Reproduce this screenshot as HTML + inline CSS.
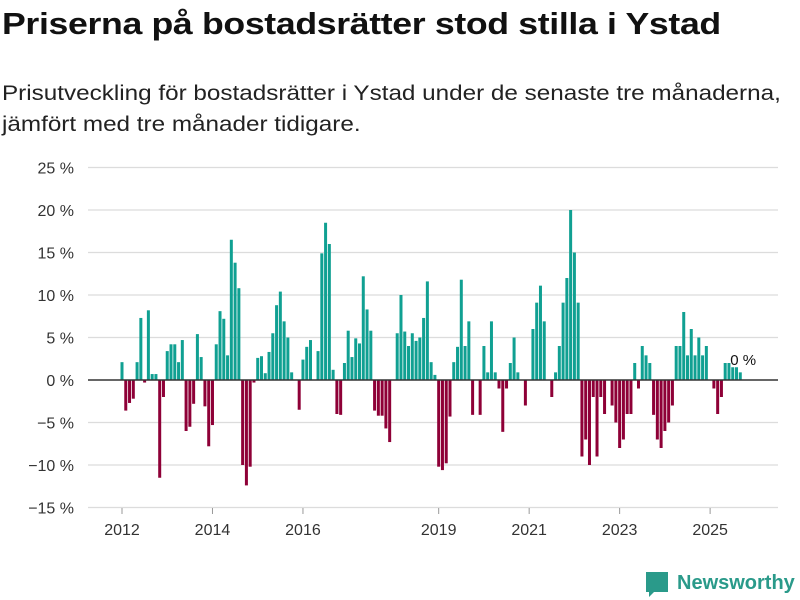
<!DOCTYPE html>
<html><head><meta charset="utf-8"><style>
body{margin:0;background:#fff;font-family:"Liberation Sans",sans-serif;}
#wrap{position:relative;width:800px;height:600px;overflow:hidden;}
h1{position:absolute;left:2px;top:6px;margin:0;font-size:31px;font-weight:bold;color:#111;letter-spacing:-0.3px;transform:scaleX(1.15);transform-origin:left top;white-space:nowrap;}
.sub{position:absolute;left:2px;top:78px;margin:0;font-size:21px;line-height:31px;color:#222;transform:scaleX(1.155);transform-origin:left top;white-space:nowrap;}
svg{position:absolute;left:0;top:0;}
</style></head><body>
<div id="wrap">
<h1>Priserna på bostadsrätter stod stilla i Ystad</h1>
<p class="sub">Prisutveckling för bostadsrätter i Ystad under de senaste tre månaderna,<br>jämfört med tre månader tidigare.</p>
<svg id="chart" width="800" height="600"></svg>
</div>
<script>
const yTicks=[25,20,15,10,5,0,-5,-10,-15];
const xTickYears=[2012,2014,2016,2019,2021,2023,2025];
const startYear=2012;
const values=[
2.1,-3.6,-2.7,-2.2,2.1,7.3,-0.3,8.2,0.7,0.7,-11.5,-2.0,
3.4,4.2,4.2,2.1,4.7,-6.0,-5.5,-2.8,5.4,2.7,-3.1,-7.8,
-5.3,4.2,8.1,7.2,2.9,16.5,13.8,10.8,-10.0,-12.4,-10.2,-0.3,
2.6,2.8,0.8,3.3,5.5,8.8,10.4,6.9,5.0,0.9,0,-3.5,
2.4,3.9,4.7,0,3.4,14.9,18.5,16.0,1.2,-4.0,-4.1,2.0,
5.8,2.7,4.9,4.3,12.2,8.3,5.8,-3.6,-4.2,-4.2,-5.7,-7.3,
0,5.5,10.0,5.7,4.0,5.5,4.6,5.0,7.3,11.6,2.1,0.6,
-10.2,-10.6,-9.8,-4.3,2.1,3.9,11.8,4.0,6.9,-4.1,0,-4.1,
4.0,0.9,6.9,0.9,-1.0,-6.1,-1.0,2.0,5.0,0.9,0,-3.0,
0,6.0,9.1,11.1,6.9,0,-2.0,0.9,4.0,9.1,12.0,20.0,
15.0,9.1,-9.0,-7.0,-10.0,-2.0,-9.0,-2.0,-4.0,0,-3.0,-5.0,
-8.0,-7.0,-4.0,-4.0,2.0,-1.0,4.0,2.9,2.0,-4.1,-7.0,-8.0,
-6.0,-5.0,-3.0,4.0,4.0,8.0,2.9,6.0,2.9,5.0,2.9,4.0,
0,-1.0,-4.0,-2.0,2.0,2.0,1.5,1.5,0.9];
const lastLabel="0 %";
const NS="http://www.w3.org/2000/svg";
const svg=document.getElementById('chart');
const y=v=>380-v*8.5;
const x=m=>122+m*3.77;
function mk(t,a){const e=document.createElementNS(NS,t);for(const k in a)e.setAttribute(k,a[k]);svg.appendChild(e);return e;}
yTicks.forEach(t=>{
 if(t!==0){const g=mk('line',{x1:88,x2:778,y1:y(t),y2:y(t),stroke:'#dcdcdc','stroke-width':1.3});
 
 }
 const l=mk('text',{x:74,y:y(t)+6,'text-anchor':'end','font-size':16,fill:'#333','font-family':'Liberation Sans, sans-serif'});
 l.textContent=(t<0?'\u2212'+(-t):t)+' %';
 
 
});
values.forEach((v,i)=>{
 if(v===0)return;
 const r=mk('rect',{x:x(i)-1.5,width:3,y:v>0?y(v):y(0),height:Math.abs(v)*8.5,fill:v>0?'#10a092':'#8e0037'});
 
 
});
const ax=mk('line',{x1:88,x2:778,y1:y(0),y2:y(0),stroke:'#333','stroke-width':1.5});


xTickYears.forEach(yr=>{
 const m=(yr-startYear)*12;
 const tk=mk('line',{x1:x(m),x2:x(m),y1:508,y2:514,stroke:'#999'});
 
 
 const l=mk('text',{x:x(m),y:535,'text-anchor':'middle','font-size':16,fill:'#333','font-family':'Liberation Sans, sans-serif'});
 l.textContent=yr;
 
 
});
const lb=mk('text',{x:x(values.length-1)-10,y:y(0)-15,'font-size':15,fill:'#111','font-family':'Liberation Sans, sans-serif'});
lb.textContent=lastLabel;


const logo=mk('g',{});


const ic=mk('path',{d:'M646 572 h22 v20 h-14 l-5 5 v-5 h-3 z',fill:'#2a9a8a'});


const lt=mk('text',{x:677,y:589,'font-size':20,fill:'#2a9a8a','font-weight':'bold','font-family':'Liberation Sans, sans-serif'});
lt.textContent='Newsworthy';


</script>
</body></html>
